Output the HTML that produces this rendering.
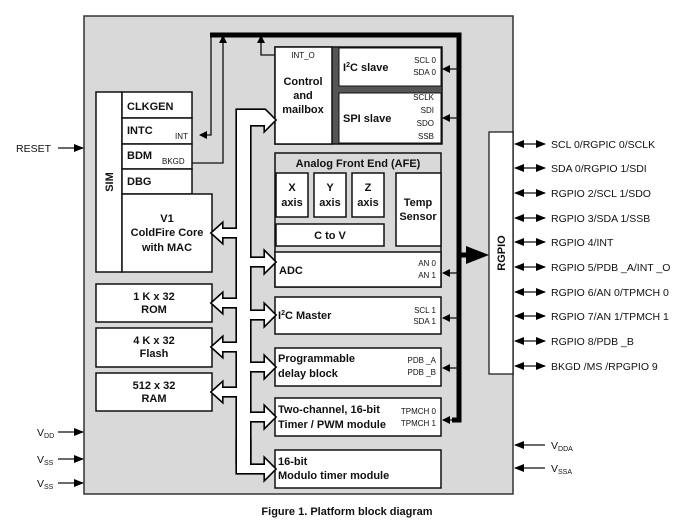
<!DOCTYPE html>
<html><head><meta charset="utf-8"><style>
html,body{margin:0;padding:0;background:#fff;}
svg{display:block;font-family:"Liberation Sans",Arial,sans-serif;}
.b{font-weight:bold;font-size:11px;fill:#111;}
.s{font-size:8px;fill:#111;}
.p{font-size:10.5px;fill:#111;}
</style></head><body>
<svg width="696" height="522" viewBox="0 0 696 522" xmlns="http://www.w3.org/2000/svg">
<defs>
<marker id="ah" markerWidth="8" markerHeight="8" refX="7" refY="4" orient="auto" markerUnits="userSpaceOnUse"><path d="M0,0 L8,4 L0,8 z" fill="#000"/></marker>
<marker id="ahs" markerWidth="10" markerHeight="8" refX="9" refY="4" orient="auto-start-reverse" markerUnits="userSpaceOnUse"><path d="M0,0 L10,4 L0,8 z" fill="#000"/></marker>
</defs>
<rect x="84" y="16" width="429" height="478" fill="#d9d9d9" stroke="#333" stroke-width="1.5"/>

<!-- SIM -->
<rect x="96" y="92" width="26" height="180" fill="#fff" stroke="#111" stroke-width="1.5"/>
<text class="b" transform="translate(113,182) rotate(-90)" text-anchor="middle">SIM</text>
<rect x="122" y="92" width="70" height="26" fill="#fff" stroke="#111" stroke-width="1.5"/>
<rect x="122" y="118" width="70" height="26" fill="#fff" stroke="#111" stroke-width="1.5"/>
<rect x="122" y="144" width="70" height="25" fill="#fff" stroke="#111" stroke-width="1.5"/>
<rect x="122" y="169" width="70" height="25" fill="#fff" stroke="#111" stroke-width="1.5"/>
<text class="b" x="127" y="110">CLKGEN</text>
<text class="b" x="127" y="134">INTC</text>
<text class="s" x="175" y="139">INT</text>
<text class="b" x="127" y="159">BDM</text>
<text class="s" x="162" y="164">BKGD</text>
<text class="b" x="127" y="185">DBG</text>
<rect x="122" y="194" width="90" height="78" fill="#fff" stroke="#111" stroke-width="1.5"/>
<text class="b" x="167" y="222" text-anchor="middle">V1</text>
<text class="b" x="167" y="236" text-anchor="middle">ColdFire Core</text>
<text class="b" x="167" y="251" text-anchor="middle">with MAC</text>

<rect x="96" y="284" width="116" height="38" fill="#fff" stroke="#111" stroke-width="1.5"/>
<text class="b" x="154" y="300" text-anchor="middle">1 K x 32</text>
<text class="b" x="154" y="313" text-anchor="middle">ROM</text>
<rect x="96" y="328" width="116" height="39" fill="#fff" stroke="#111" stroke-width="1.5"/>
<text class="b" x="154" y="344" text-anchor="middle">4 K x 32</text>
<text class="b" x="154" y="357" text-anchor="middle">Flash</text>
<rect x="96" y="373" width="116" height="38" fill="#fff" stroke="#111" stroke-width="1.5"/>
<text class="b" x="154" y="389" text-anchor="middle">512 x 32</text>
<text class="b" x="154" y="402" text-anchor="middle">RAM</text>

<!-- Control / slaves -->
<rect x="275" y="47" width="167" height="97" fill="#555" stroke="#111" stroke-width="1.5"/>
<rect x="275" y="47" width="57" height="97" fill="#fff" stroke="#111" stroke-width="1.5"/>
<text class="s" x="303" y="58" text-anchor="middle">INT_O</text>
<text class="b" x="303" y="85" text-anchor="middle">Control</text>
<text class="b" x="303" y="99" text-anchor="middle">and</text>
<text class="b" x="303" y="113" text-anchor="middle">mailbox</text>
<rect x="339" y="48" width="102" height="38" fill="#fff" stroke="#111" stroke-width="1"/>
<text class="b" x="343" y="71">I<tspan font-size="7" dy="-4">2</tspan><tspan dy="4">C slave</tspan></text>
<text class="s" x="436" y="63" text-anchor="end">SCL 0</text>
<text class="s" x="436" y="75" text-anchor="end">SDA 0</text>
<rect x="339" y="93" width="102" height="50" fill="#fff" stroke="#111" stroke-width="1"/>
<text class="b" x="343" y="122">SPI slave</text>
<text class="s" x="434" y="100" text-anchor="end">SCLK</text>
<text class="s" x="434" y="113" text-anchor="end">SDI</text>
<text class="s" x="434" y="126" text-anchor="end">SDO</text>
<text class="s" x="434" y="139" text-anchor="end">SSB</text>

<!-- AFE -->
<rect x="275" y="153" width="166" height="134" fill="#d9d9d9" stroke="#111" stroke-width="1.5"/>
<text class="b" x="358" y="167" text-anchor="middle">Analog Front End (AFE)</text>
<rect x="276" y="173" width="32" height="44" fill="#fff" stroke="#111" stroke-width="1.5"/>
<text class="b" x="292" y="191" text-anchor="middle">X</text><text class="b" x="292" y="206" text-anchor="middle">axis</text>
<rect x="314" y="173" width="32" height="44" fill="#fff" stroke="#111" stroke-width="1.5"/>
<text class="b" x="330" y="191" text-anchor="middle">Y</text><text class="b" x="330" y="206" text-anchor="middle">axis</text>
<rect x="352" y="173" width="32" height="44" fill="#fff" stroke="#111" stroke-width="1.5"/>
<text class="b" x="368" y="191" text-anchor="middle">Z</text><text class="b" x="368" y="206" text-anchor="middle">axis</text>
<rect x="396" y="173" width="45" height="73" fill="#fff" stroke="#111" stroke-width="1.5"/>
<text class="b" x="418" y="206" text-anchor="middle">Temp</text><text class="b" x="418" y="220" text-anchor="middle">Sensor</text>
<rect x="276" y="224" width="108" height="22" fill="#fff" stroke="#111" stroke-width="1.5"/>
<text class="b" x="330" y="239" text-anchor="middle">C to V</text>
<rect x="275" y="252" width="166" height="35" fill="#fff" stroke="#111" stroke-width="1.5"/>
<text class="b" x="279" y="274">ADC</text>
<text class="s" x="436" y="266" text-anchor="end">AN 0</text>
<text class="s" x="436" y="278" text-anchor="end">AN 1</text>

<rect x="275" y="297" width="166" height="37" fill="#fff" stroke="#111" stroke-width="1.5"/>
<text class="b" x="278" y="319">I<tspan font-size="7" dy="-4">2</tspan><tspan dy="4">C Master</tspan></text>
<text class="s" x="436" y="313" text-anchor="end">SCL 1</text>
<text class="s" x="436" y="324" text-anchor="end">SDA 1</text>
<rect x="275" y="348" width="166" height="38" fill="#fff" stroke="#111" stroke-width="1.5"/>
<text class="b" x="278" y="362">Programmable</text>
<text class="b" x="278" y="377">delay block</text>
<text class="s" x="436" y="363" text-anchor="end">PDB _A</text>
<text class="s" x="436" y="375" text-anchor="end">PDB _B</text>
<rect x="275" y="398" width="166" height="38" fill="#fff" stroke="#111" stroke-width="1.5"/>
<text class="b" x="278" y="413">Two-channel, 16-bit</text>
<text class="b" x="278" y="428">Timer / PWM module</text>
<text class="s" x="436" y="414" text-anchor="end">TPMCH 0</text>
<text class="s" x="436" y="426" text-anchor="end">TPMCH 1</text>
<rect x="275" y="450" width="166" height="38" fill="#fff" stroke="#111" stroke-width="1.5"/>
<text class="b" x="278" y="465">16-bit</text>
<text class="b" x="278" y="479">Modulo timer module</text>

<!-- hollow bus -->
<g id="bus">
<path d="M237,110 H265 V110 L275,120 L265,130 V125 H250 V462 H237 Z"/>
<path d="M244,229 H222 V224 L212,233 L222,242 V237 H244 Z"/>
<path d="M244,299 H222 V294 L212,303 L222,312 V307 H244 Z"/>
<path d="M244,343 H222 V338 L212,347 L222,356 V351 H244 Z"/>
<path d="M244,388 H222 V383 L212,392 L222,401 V396 H244 Z"/>
<path d="M244,258 H265 V252 L275,262 L265,272 V266 H244 Z"/>
<path d="M244,311 H265 V305 L275,315 L265,325 V319 H244 Z"/>
<path d="M244,363 H265 V357 L275,367 L265,377 V371 H244 Z"/>
<path d="M244,413 H265 V407 L275,417 L265,427 V421 H244 Z"/>
<path d="M237,440 V473 H265 V479 L275,469 L265,459 V465 H250 V440 Z"/>
</g>
<use href="#bus" fill="none" stroke="#000" stroke-width="3.2"/>
<use href="#bus" fill="#fff" stroke="none"/>

<!-- thin lines -->
<g stroke="#111" stroke-width="1.3" fill="none">
<polyline points="211,33 211,135 200,135" marker-end="url(#ah)"/>
<polyline points="192,163 223,163 223,36" marker-end="url(#ah)"/>
<polyline points="275,55 261,55 261,36" marker-end="url(#ah)"/>
</g>
<!-- thick bus -->
<polyline points="210,35 459,35 459,420 452,420" fill="none" stroke="#000" stroke-width="5"/>
<g stroke="#111" stroke-width="1.3" fill="none">
<line x1="459" y1="69" x2="443" y2="69" marker-end="url(#ah)"/>
<line x1="459" y1="118" x2="443" y2="118" marker-end="url(#ah)"/>
<line x1="459" y1="273" x2="443" y2="273" marker-end="url(#ah)"/>
<line x1="459" y1="318" x2="443" y2="318" marker-end="url(#ah)"/>
<line x1="459" y1="368" x2="443" y2="368" marker-end="url(#ah)"/>
<line x1="452" y1="420" x2="443" y2="420" marker-end="url(#ah)"/>
</g>
<line x1="459" y1="255" x2="470" y2="255" stroke="#000" stroke-width="5"/>
<path d="M466,246 L489,255 L466,264 Z" fill="#000"/>

<!-- RGPIO -->
<rect x="489" y="132" width="24" height="242" fill="#fff" stroke="#111" stroke-width="1.2"/>
<text class="b" transform="translate(505,253) rotate(-90)" text-anchor="middle">RGPIO</text>
<g stroke="#111" stroke-width="1.3">
<line x1="515" y1="144" x2="545" y2="144" marker-start="url(#ahs)" marker-end="url(#ahs)"/>
<line x1="515" y1="168" x2="545" y2="168" marker-start="url(#ahs)" marker-end="url(#ahs)"/>
<line x1="515" y1="193" x2="545" y2="193" marker-start="url(#ahs)" marker-end="url(#ahs)"/>
<line x1="515" y1="218" x2="545" y2="218" marker-start="url(#ahs)" marker-end="url(#ahs)"/>
<line x1="515" y1="242" x2="545" y2="242" marker-start="url(#ahs)" marker-end="url(#ahs)"/>
<line x1="515" y1="267" x2="545" y2="267" marker-start="url(#ahs)" marker-end="url(#ahs)"/>
<line x1="515" y1="292" x2="545" y2="292" marker-start="url(#ahs)" marker-end="url(#ahs)"/>
<line x1="515" y1="316" x2="545" y2="316" marker-start="url(#ahs)" marker-end="url(#ahs)"/>
<line x1="515" y1="341" x2="545" y2="341" marker-start="url(#ahs)" marker-end="url(#ahs)"/>
<line x1="515" y1="366" x2="545" y2="366" marker-start="url(#ahs)" marker-end="url(#ahs)"/>
<line x1="545" y1="445" x2="515" y2="445" marker-end="url(#ahs)"/>
<line x1="545" y1="468" x2="515" y2="468" marker-end="url(#ahs)"/>
</g>
<g class="p">
<text class="p" x="551" y="148">SCL 0/RGPIC  0/SCLK</text>
<text class="p" x="551" y="172">SDA 0/RGPIO  1/SDI</text>
<text class="p" x="551" y="197">RGPIO  2/SCL  1/SDO</text>
<text class="p" x="551" y="222">RGPIO  3/SDA  1/SSB</text>
<text class="p" x="551" y="246">RGPIO  4/INT</text>
<text class="p" x="551" y="271">RGPIO  5/PDB  _A/INT _O</text>
<text class="p" x="551" y="296">RGPIO  6/AN 0/TPMCH   0</text>
<text class="p" x="551" y="320">RGPIO  7/AN 1/TPMCH   1</text>
<text class="p" x="551" y="345">RGPIO  8/PDB  _B</text>
<text class="p" x="551" y="370">BKGD  /MS /RPGPIO   9</text>
<text class="p" x="551" y="449">V<tspan font-size="7" dy="2">DDA</tspan></text>
<text class="p" x="551" y="472">V<tspan font-size="7" dy="2">SSA</tspan></text>
</g>

<!-- left inputs -->
<g stroke="#111" stroke-width="1.3">
<line x1="58" y1="148" x2="83" y2="148" marker-end="url(#ahs)"/>
<line x1="58" y1="432" x2="83" y2="432" marker-end="url(#ahs)"/>
<line x1="58" y1="459" x2="83" y2="459" marker-end="url(#ahs)"/>
<line x1="58" y1="483" x2="83" y2="483" marker-end="url(#ahs)"/>
</g>
<text class="p" x="51" y="152" text-anchor="end">RESET</text>
<text class="p" x="37" y="436">V<tspan font-size="7" dy="2">DD</tspan></text>
<text class="p" x="37" y="463">V<tspan font-size="7" dy="2">SS</tspan></text>
<text class="p" x="37" y="487">V<tspan font-size="7" dy="2">SS</tspan></text>

<text x="347" y="515" text-anchor="middle" font-weight="bold" font-size="11" fill="#111">Figure 1. Platform block diagram</text>
</svg>
</body></html>
